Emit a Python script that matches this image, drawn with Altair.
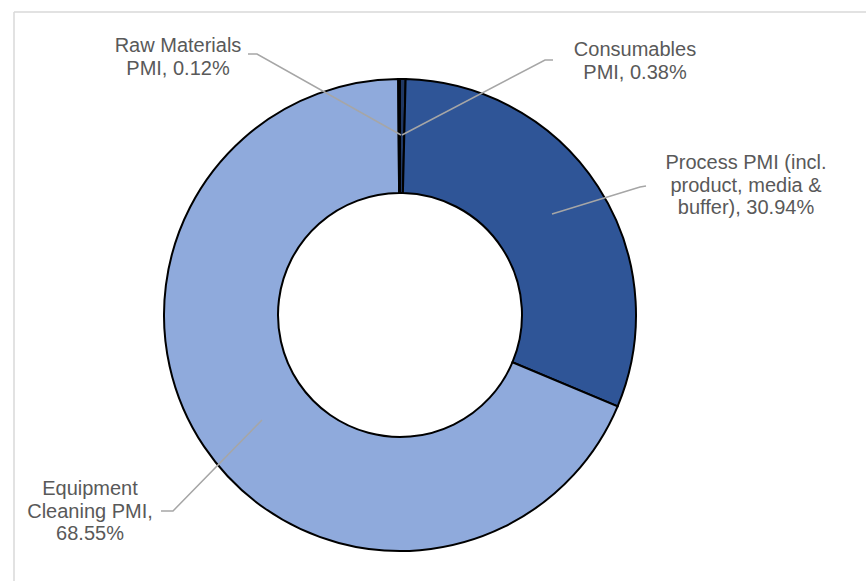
import altair as alt
import pandas as pd

# ---- data ----
categories = [
    "Consumables PMI",
    "Process PMI (incl. product, media & buffer)",
    "Equipment Cleaning PMI",
    "Raw Materials PMI",
]
values = [0.38, 30.94, 68.55, 0.12]
colors = ["#203864", "#2F5597", "#8FAADC", "#B4C7E7"]
label_lines = [
    ["Consumables", "PMI, 0.38%"],
    ["Process PMI (incl.", "product, media &", "buffer), 30.94%"],
    ["Equipment", "Cleaning PMI,", "68.55%"],
    ["Raw Materials", "PMI, 0.12%"],
]

# ---- layout (pixels) ----
W, H = 866, 581
CX, CY = 400, 315
R_OUT, R_IN = 236, 122
# (x center, y of first line)
label_pos = [(635, 50), (746, 163), (90, 489), (178, 46)]
leaders = [
    [(402, 135), (545, 60), (553, 60)],
    [(552, 214), (640, 187), (646, 186)],
    [(262, 420), (173, 511), (161, 511)],
    [(401, 135), (257, 54), (248, 54)],
]
TEXT_COLOR = "#595959"
FONT = "Liberation Sans"

df = pd.DataFrame({
    "category": categories,
    "value": values,
    "order": list(range(len(categories))),
})

donut = alt.Chart(df).mark_arc(
    outerRadius=R_OUT, innerRadius=R_IN, stroke="black", strokeWidth=2
).encode(
    theta=alt.Theta("value:Q", stack=True),
    order=alt.Order("order:Q"),
    color=alt.Color("category:N", scale=alt.Scale(domain=categories, range=colors), legend=None),
    x=alt.value(CX),
    y=alt.value(CY),
)

layers = []

# frame (only left and top edges are visible in the window)
layers.append(alt.Chart(pd.DataFrame({"a": [0]})).mark_rule(color="#D9D9D9", strokeWidth=1.5).encode(
    x=alt.value(14), x2=alt.value(W), y=alt.value(12)))
layers.append(alt.Chart(pd.DataFrame({"a": [0]})).mark_rule(color="#D9D9D9", strokeWidth=1.5).encode(
    x=alt.value(14), y=alt.value(12), y2=alt.value(H)))

layers.append(donut)

# leader lines (drawn over the donut)
for i, pts in enumerate(leaders):
    ldf = pd.DataFrame({"px": [p[0] for p in pts], "py": [p[1] for p in pts], "k": list(range(len(pts)))})
    layers.append(alt.Chart(ldf).mark_line(color="#A6A6A6", strokeWidth=1.5).encode(
        x=alt.X("px:Q", scale=None, axis=None),
        y=alt.Y("py:Q", scale=None, axis=None),
        order="k:Q",
    ))

# labels
for lines, (lx, ly) in zip(label_lines, label_pos):
    layers.append(alt.Chart(pd.DataFrame({"a": [0]})).mark_text(
        text=lines, font=FONT, fontSize=20, lineHeight=22.5, color=TEXT_COLOR,
        align="center", baseline="middle",
    ).encode(x=alt.value(lx), y=alt.value(ly)))

chart = alt.layer(*layers).properties(
    width=W, height=H, autosize=alt.AutoSizeParams(type="none"), padding=0,
    background="white",
).configure_view(stroke=None)

chart.save("out.html", embed_options={"renderer": "svg", "actions": False})
